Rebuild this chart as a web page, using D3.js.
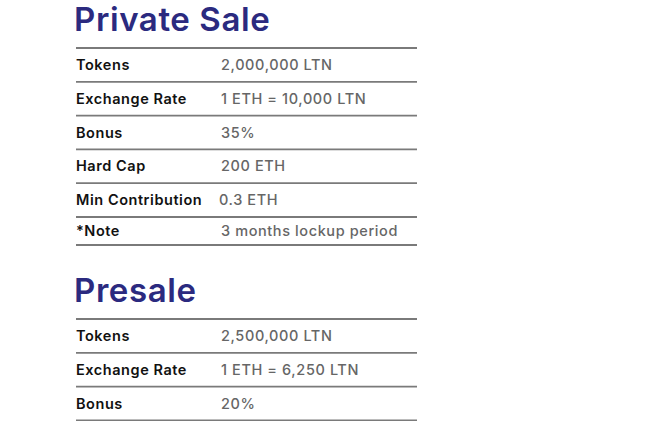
<!DOCTYPE html>
<html><head><meta charset="utf-8">
<script src="https://cdn.jsdelivr.net/npm/d3@7"></script>
<style>
body{margin:0;background:#fff;}
text{font-family:Inter,"Noto Sans",sans-serif;}
</style></head>
<body><svg id="chart" width="653" height="421"></svg>
<script>
// table contents
var privateLabels = ["Tokens", "Exchange Rate", "Bonus", "Hard Cap", "Min Contribution", "*Note"];
var privateValues = ["2,000,000 LTN", "1 ETH = 10,000 LTN", "35%", "200 ETH", "0.3 ETH", "3 months lockup period"];
var presaleLabels = ["Tokens", "Exchange Rate", "Bonus"];
var presaleValues = ["2,500,000 LTN", "1 ETH = 6,250 LTN", "20%"];

var svg = d3.select("#chart");
var x = d3.scaleLinear().domain([0, 1]).range([76, 417]);

function drawSection(title, titleY, top, labels, values, lastH) {
    svg.append("text").attr("x", 74).attr("y", titleY)
        .attr("font-size", 33).attr("font-weight", 600).attr("fill", "#2b2a7f")
        .attr("letter-spacing", 0.6)
        .text(title);
    var rowH = 33.8;
    var bottoms = labels.map(function(d, i) {
        return (i === labels.length - 1 && lastH) ? top + i * rowH + lastH : top + (i + 1) * rowH;
    });
    var tops = [top].concat(bottoms.slice(0, -1));
    svg.selectAll(null).data([top].concat(bottoms)).enter().append("line")
        .attr("x1", x(0)).attr("x2", x(1))
        .attr("y1", function(d) { return d; }).attr("y2", function(d) { return d; })
        .attr("stroke", "#7a7a7a").attr("stroke-width", 1.8);
    var g = svg.selectAll(null).data(labels).enter().append("g");
    g.append("text").attr("x", x(0))
        .attr("y", function(d, i) { return (tops[i] + bottoms[i]) / 2 + 5; })
        .attr("font-size", 14.5).attr("font-weight", 600).attr("fill", "#111")
        .attr("letter-spacing", 0.55)
        .text(function(d) { return d; });
    g.append("text").attr("x", function(d) { return d === "Min Contribution" ? 219 : 221; })
        .attr("y", function(d, i) { return (tops[i] + bottoms[i]) / 2 + 5; })
        .attr("font-size", 14.5).attr("font-weight", 500).attr("fill", "#666")
        .attr("letter-spacing", 0.6)
        .text(function(d, i) { return values[i]; });
}

drawSection("Private Sale", 31, 48, privateLabels, privateValues, 28);
drawSection("Presale", 302, 319, presaleLabels, presaleValues, 0);
</script></body></html>
